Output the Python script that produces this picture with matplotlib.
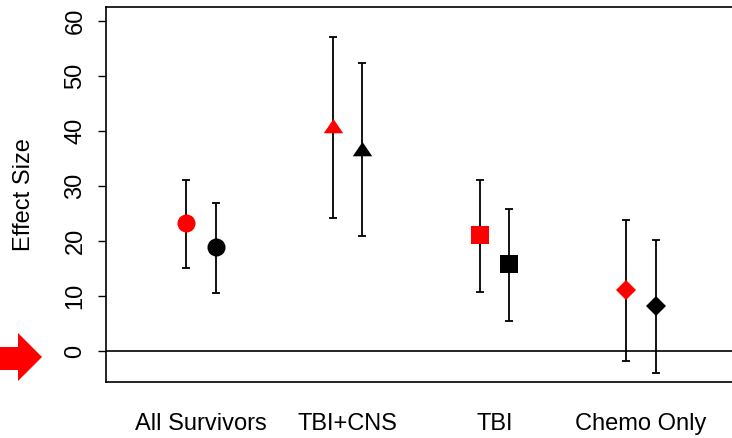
import matplotlib.pyplot as plt
from matplotlib.patches import Polygon
import numpy as np

plt.rcParams["font.family"] = ["Liberation Sans", "DejaVu Sans"]

# data
groups = ["All Survivors", "TBI+CNS", "TBI", "Chemo Only"]
red_est = [23.3, 40.6, 21.2, 11.1]
red_lo = [15.2, 24.3, 10.8, -1.8]
red_hi = [31.1, 57.2, 31.2, 23.8]
black_est = [18.9, 36.4, 15.9, 8.2]
black_lo = [10.5, 20.9, 5.5, -3.9]
black_hi = [26.9, 52.5, 25.9, 20.2]

tri = [(-1, -0.493), (1, -0.493), (0, 0.987)]
markers = ["o", tri, "s", "D"]
sizes = [13, 14, 13, 10]

W, H = 732, 438
fig = plt.figure(figsize=(W / 100, H / 100), dpi=100)
ax = fig.add_axes([106 / W, 56 / H, 1.0 - 106 / W, (382 - 7) / H])

x = np.arange(1, len(groups) + 1)
off = 0.1
for i in range(len(groups)):
    for xs, est, lo, hi, col in [
        (x[i] - off, red_est[i], red_lo[i], red_hi[i], "red"),
        (x[i] + off, black_est[i], black_lo[i], black_hi[i], "black"),
    ]:
        ax.errorbar(xs, est, yerr=[[est - lo], [hi - est]], fmt="none",
                    ecolor="black", elinewidth=1.3, capsize=3, capthick=1.3, zorder=2)
        ax.plot(xs, est, marker=markers[i], ms=sizes[i], color=col,
                markeredgewidth=0, linestyle="none", zorder=3)

ax.axhline(0, color="black", lw=1.2, zorder=1)

ax.set_xlim(1 - 95 / 146.7, 1 + 531 / 146.7)
ax.set_ylim(-5.6, 62.6)
ax.set_yticks([0, 10, 20, 30, 40, 50, 60])
ax.tick_params(axis="y", labelsize=17, length=6, width=1, pad=8)
for lab in ax.get_yticklabels():
    lab.set_rotation(90)
    lab.set_va("center")
ax.set_xticks(x)
ax.set_xticklabels(groups, fontsize=17)
ax.tick_params(axis="x", length=0, pad=22)
ax.spines["right"].set_visible(False)
for s in ["left", "top", "bottom"]:
    ax.spines[s].set_linewidth(1.2)

fig.text(24 / W, 1 - 195 / H, "Effect Size", rotation=90, fontsize=17,
         ha="center", va="center")

# red arrow pointing at the zero line
arrow = [(0, 347), (18, 347), (18, 333), (42, 357), (18, 381), (18, 370), (0, 370)]
arrow = [(px / W, 1 - py / H) for px, py in arrow]
fig.patches.append(Polygon(arrow, closed=True, facecolor="red", edgecolor="none",
                           transform=fig.transFigure))

fig.savefig("out.png", dpi=100)
